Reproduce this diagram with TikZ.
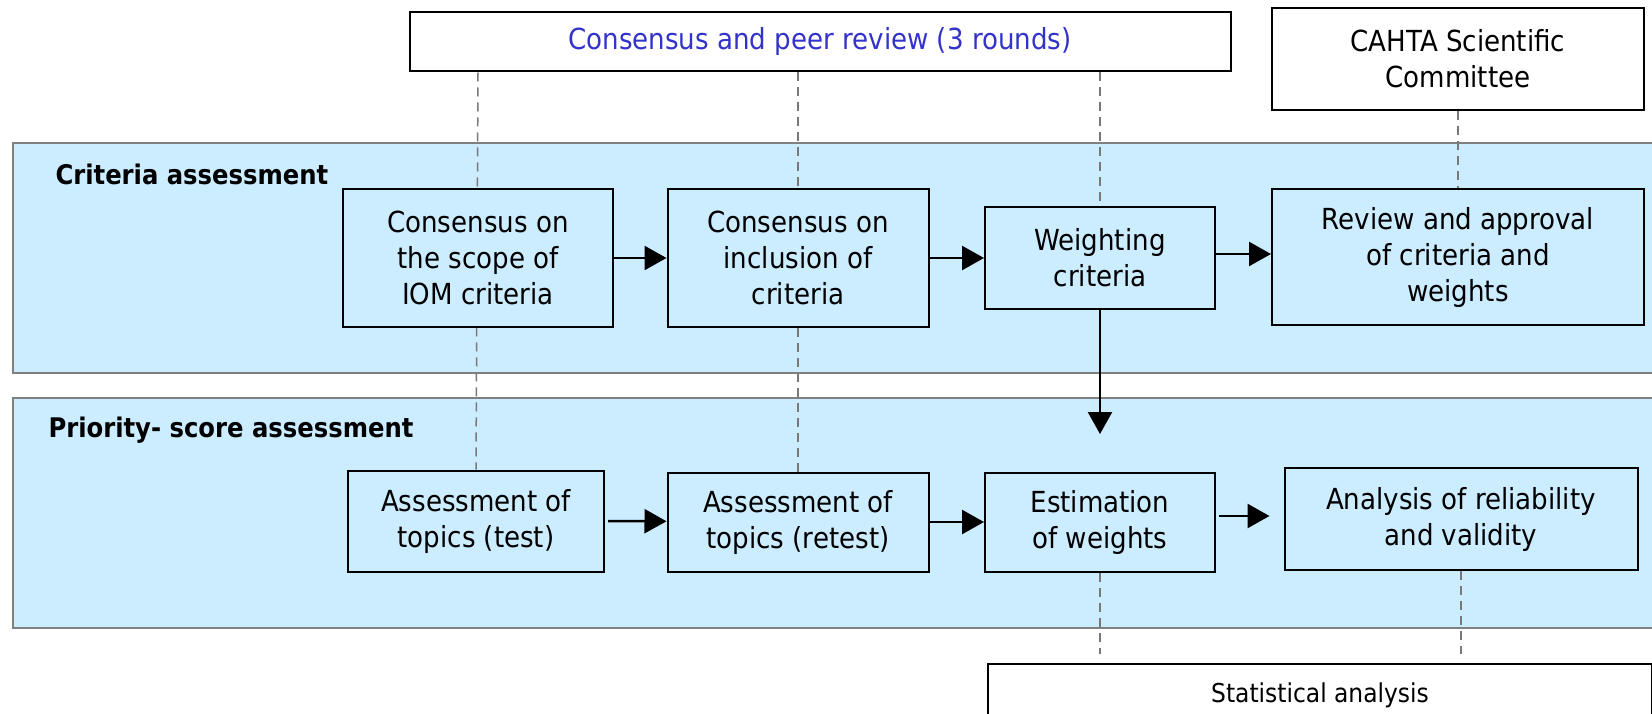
\documentclass[tikz,border=0pt]{standalone}
\usepackage{fontspec}
\setmainfont{DejaVu Sans Condensed}
\usetikzlibrary{arrows.meta,backgrounds}
\definecolor{bandblue}{RGB}{204,236,255}
\definecolor{bandline}{RGB}{128,128,128}
\definecolor{peerblue}{RGB}{51,51,204}
\definecolor{guide}{RGB}{120,120,120}

\begin{document}
\begin{tikzpicture}[x=1pt,y=-1pt,
  stepbox/.style={draw,line width=2pt,fill=bandblue,align=center,inner sep=0pt,
    font=\fontsize{29}{36}\selectfont},
  topbox/.style={stepbox,fill=white},
  band/.style={draw=bandline,line width=2pt,fill=bandblue},
  guideline/.style={guide,line width=1.5pt,dash pattern=on 9pt off 6pt},
  flow/.style={line width=2.5pt,-{Triangle[length=22pt,width=24pt]}},
  bandlabel/.style={anchor=west,font=\fontsize{27}{30}\selectfont\bfseries}]
\useasboundingbox (0,0) rectangle (1652,714);

% bands
\begin{pgfonlayer}{background}
\draw[band] (13,143) rectangle (1670,373);
\draw[band] (13,398) rectangle (1670,628);
\end{pgfonlayer}
\node[bandlabel] (critlabel) at (52,174) {Criteria assessment};
\node[bandlabel] (prilabel) at (45,430) {Priority- score assessment};

% top boxes
\node[topbox,minimum width=821,minimum height=59,text=peerblue] (peer) at (820,42) {Consensus and peer review (3 rounds)};
\node[topbox,minimum width=372,minimum height=102] (cahta) at (1458,59) {CAHTA Scientific\\Committee};

% criteria assessment steps
\node[stepbox,minimum width=270,minimum height=137] (scope) at (478,258) {Consensus on\\the scope of\\IOM criteria};
\node[stepbox,minimum width=261,minimum height=137] (inclusion) at (798,258) {Consensus on\\inclusion of\\criteria};
\node[stepbox,minimum width=230,minimum height=101] (weighting) at (1100,258) {Weighting\\criteria};
\node[stepbox,minimum width=372,minimum height=135] (approval) at (1458,257) {Review and approval\\of criteria and\\weights};

% priority-score steps
\node[stepbox,minimum width=256,minimum height=101] (test) at (476,521) {Assessment of\\topics (test)};
\node[stepbox,minimum width=261,minimum height=99] (retest) at (798,522) {Assessment of\\topics (retest)};
\node[stepbox,minimum width=230,minimum height=99] (estimation) at (1100,522) {Estimation\\of weights};
\node[stepbox,minimum width=353,minimum height=102] (reliability) at (1461,519) {Analysis of reliability\\and validity};

\node[topbox,minimum width=664,minimum height=62,font=\fontsize{26}{30}\selectfont] (stats) at (1320,695) {Statistical analysis};

% dashed guides
\begin{pgfonlayer}{background}
\draw[guideline] (scope |- peer.south) -- (test.north);
\draw[guideline] (inclusion |- peer.south) -- (retest.north);
\draw[guideline] (weighting |- peer.south) -- (weighting.north);
\draw[guideline] (cahta.south) -- (approval.north);
\end{pgfonlayer}
\coordinate (estend) at ([yshift=9pt]estimation |- stats.north);
\coordinate (relend) at ([yshift=9pt]reliability |- stats.north);
\draw[guideline] (estimation.south) -- (estend);
\draw[guideline] (reliability.south) -- (relend);

% arrows
\draw[flow] (scope) -- (inclusion);
\draw[flow] (inclusion) -- (weighting);
\draw[flow] (weighting.east |- approval.west) ++(0,-3) -- (approval.west |- 0,254);
\draw[flow] ([xshift=3pt]test.east) -- (retest);
\draw[flow] (retest) -- (estimation);
\coordinate (weightdrop) at (1100,434);
\draw[flow] (weighting.south) -- (weightdrop);
\draw[flow] ([xshift=3pt]estimation.east |- 0,516) -- ([xshift=-14pt]reliability.west |- 0,516);
\end{tikzpicture}
\end{document}
